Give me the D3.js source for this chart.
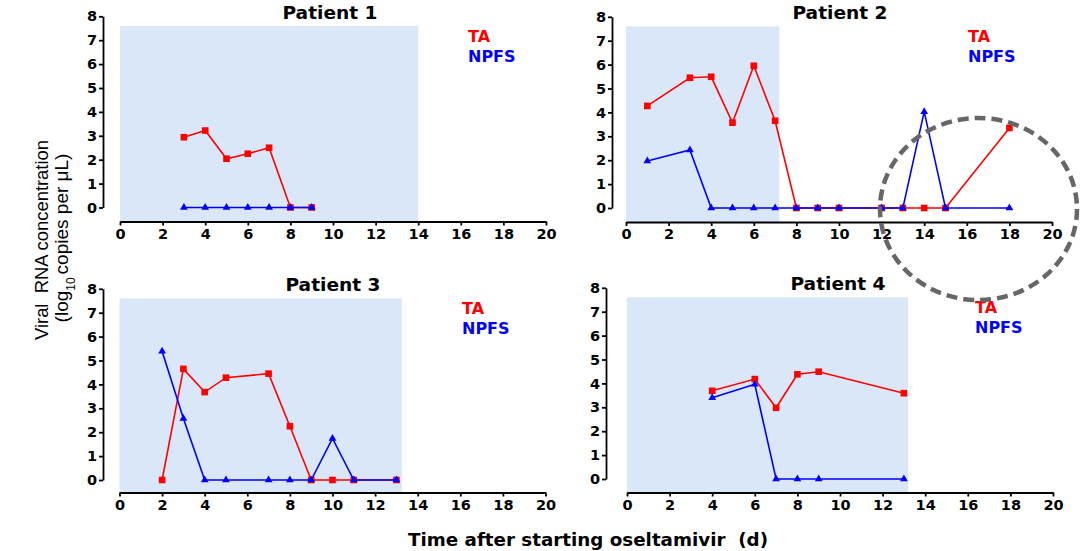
<!doctype html>
<html>
<head>
<meta charset="utf-8">
<title>Viral RNA concentration</title>
<style>
  body { margin: 0; background: #fff; }
  svg text { fill: #000; }
</style>
</head>
<body>
<div id="chart"></div>
<script src="https://d3js.org/d3.v7.min.js"></script>
<script>
// ---- data ----
var xTicks = [0, 2, 4, 6, 8, 10, 12, 14, 16, 18, 20];
var yTicks = [0, 1, 2, 3, 4, 5, 6, 7, 8];
var seriesNames = ["TA", "NPFS"];
var titles = ["Patient 1", "Patient 2", "Patient 3", "Patient 4"];

var p1Days = [3, 4, 5, 6, 7, 8, 9];
var p1TA   = [2.94, 3.22, 2.04, 2.25, 2.5, 0, 0];
var p1NPFS = [0, 0, 0, 0, 0, 0, 0];

var p2Days = [1, 3, 4, 5, 6, 7, 8, 9, 10, 12, 13, 14, 15, 18];
var p2TA   = [4.27, 5.45, 5.49, 3.57, 5.95, 3.65, 0, 0, 0, 0, 0, 0, 0, 3.35];
var p2NPFS = [1.97, 2.43, 0, 0, 0, 0, 0, 0, 0, 0, 0, 4.03, 0, 0];

var p3Days = [2, 3, 4, 5, 7, 8, 9, 10, 11, 13];
var p3TA   = [0, 4.65, 3.68, 4.28, 4.45, 2.25, 0, 0, 0, 0];
var p3NPFS = [5.39, 2.57, 0, 0, 0, 0, 0, 1.74, 0, 0];

var p4Days = [4, 6, 7, 8, 9, 13];
var p4TA   = [3.69, 4.18, 2.98, 4.38, 4.49, 3.59];
var p4NPFS = [3.4, 3.96, 0, 0, 0, 0];

// treatment period (shaded), end day per patient
var shadeEnd = [14, 7.2, 13.25, 13.2];
var shadeTop = 7.6;

// ---- layout ----
var W = 1082, H = 551;
var red = "#ff0000", blue = "#0000ff", shade = "#d9e7f8";
var pxPerDay = 21.3, pxPerLog = 23.9;

var panels = [
  {days: p1Days, ta: p1TA, npfs: p1NPFS, x0: 120, y0: 207.5, axisY: 221.5, yAxisX: 103, titleX: 330, titleY: 18.5, legX: 468, legY: 42},
  {days: p2Days, ta: p2TA, npfs: p2NPFS, x0: 626, y0: 208, axisY: 222, yAxisX: 612, titleX: 840, titleY: 18.5, legX: 968, legY: 42},
  {days: p3Days, ta: p3TA, npfs: p3NPFS, x0: 119.5, y0: 480, axisY: 492.5, yAxisX: 103, titleX: 333, titleY: 290.5, legX: 462, legY: 314},
  {days: p4Days, ta: p4TA, npfs: p4NPFS, x0: 627, y0: 479, axisY: 492.5, yAxisX: 606, titleX: 838, titleY: 290, legX: 975, legY: 313}
];

var svg = d3.select("#chart").append("svg")
    .attr("width", W).attr("height", H)
    .style("font-family", "'DejaVu Sans', sans-serif");

panels.forEach(function(p, i) {
  var x = d3.scaleLinear().domain([0, 20]).range([p.x0, p.x0 + 20 * pxPerDay]);
  var y = d3.scaleLinear().domain([0, 8]).range([p.y0, p.y0 - 8 * pxPerLog]);
  var g = svg.append("g");

  // shaded treatment window
  g.append("rect")
      .attr("x", x(0))
      .attr("y", y(shadeTop))
      .attr("width", x(shadeEnd[i]) - x(0))
      .attr("height", p.axisY - y(shadeTop))
      .attr("fill", shade);

  // axes
  var xAxis = d3.axisBottom(x).tickValues(xTicks).tickSize(4).tickSizeOuter(0).tickPadding(3);
  var yAxis = d3.axisLeft(y).tickValues(yTicks).tickSize(4).tickSizeOuter(0).tickPadding(2);

  var gx = g.append("g").attr("transform", "translate(0," + p.axisY + ")").call(xAxis);
  var gy = g.append("g").attr("transform", "translate(" + p.yAxisX + ",0)").call(yAxis);

  [gx, gy].forEach(function(a) {
    a.selectAll("path, line").attr("stroke", "#000").attr("stroke-width", 1.8);
    a.selectAll("text")
        .style("font-family", "'DejaVu Sans', sans-serif")
        .style("font-weight", "bold")
        .style("font-size", "14.5px")
        .attr("fill", "#000");
  });

  // title
  g.append("text")
      .attr("x", p.titleX).attr("y", p.titleY)
      .attr("text-anchor", "middle")
      .attr("textLength", 95).attr("lengthAdjust", "spacingAndGlyphs")
      .style("font-weight", "bold").style("font-size", "17px")
      .text(titles[i]);

  // legend
  g.append("text").attr("x", p.legX).attr("y", p.legY)
      .style("font-weight", "bold").style("font-size", "16px")
      .style("fill", red).text(seriesNames[0]);
  g.append("text").attr("x", p.legX).attr("y", p.legY + 20)
      .style("font-weight", "bold").style("font-size", "16px")
      .style("fill", blue).text(seriesNames[1]);

  var line = d3.line().x(function(d) { return x(d[0]); }).y(function(d) { return y(d[1]); });
  var ta = p.days.map(function(d, k) { return [d, p.ta[k]]; });
  var np = p.days.map(function(d, k) { return [d, p.npfs[k]]; });

  // TA: red squares
  g.append("path").datum(ta).attr("d", line)
      .attr("fill", "none").attr("stroke", red).attr("stroke-width", 1.6);
  g.selectAll(".sq").data(ta).enter().append("path")
      .attr("class", "sq")
      .attr("transform", function(d) { return "translate(" + x(d[0]) + "," + y(d[1]) + ")"; })
      .attr("d", d3.symbol().type(d3.symbolSquare).size(44))
      .attr("fill", red);

  // NPFS: blue triangles (drawn on top)
  g.append("path").datum(np).attr("d", line)
      .attr("fill", "none").attr("stroke", blue).attr("stroke-width", 1.6);
  g.selectAll(".tri").data(np).enter().append("path")
      .attr("class", "tri")
      .attr("transform", function(d) { return "translate(" + x(d[0]) + "," + y(d[1]) + ")"; })
      .attr("d", d3.symbol().type(d3.symbolTriangle).size(26))
      .attr("fill", blue);
});

// shared axis titles
svg.append("text")
    .attr("transform", "translate(48,240) rotate(-90)")
    .attr("text-anchor", "middle")
    .attr("textLength", 200).attr("lengthAdjust", "spacingAndGlyphs")
    .style("font-family", "'Liberation Sans', Arial, sans-serif")
    .style("font-size", "19px")
    .text("Viral\u00a0 RNA concentration");

var yl2 = svg.append("text")
    .attr("transform", "translate(68,238) rotate(-90)")
    .attr("text-anchor", "middle")
    .style("font-family", "'Liberation Sans', Arial, sans-serif")
    .style("font-size", "19px");
yl2.append("tspan").text("(log");
yl2.append("tspan").attr("baseline-shift", "sub").style("font-size", "12px").text("10");
yl2.append("tspan").attr("dx", 3).text("copies per \u03bcL)");

svg.append("text")
    .attr("x", 588).attr("y", 546)
    .attr("text-anchor", "middle")
    .attr("textLength", 360).attr("lengthAdjust", "spacingAndGlyphs")
    .style("font-weight", "bold").style("font-size", "17px")
    .text("Time after starting oseltamivir\u00a0 (d)");

// dashed highlight circle
svg.append("ellipse")
    .attr("cx", 978.5).attr("cy", 209).attr("rx", 98.5).attr("ry", 91)
    .attr("fill", "none").attr("stroke", "#666").attr("stroke-width", 4.5)
    .attr("stroke-dasharray", "11 6");
</script>
</body>
</html>
